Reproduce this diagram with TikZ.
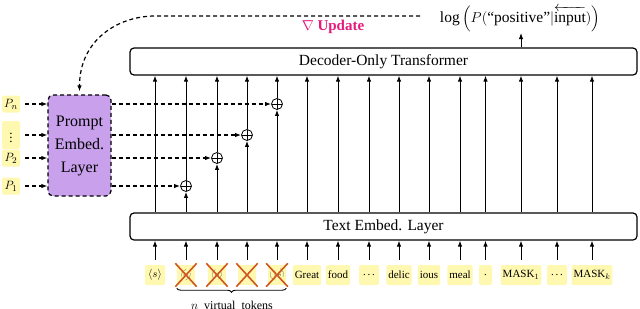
\documentclass[tikz,border=0pt]{standalone}
\usepackage{amsmath}
\usepackage{fontspec}
\setmainfont{Liberation Serif}
\usetikzlibrary{arrows.meta,decorations.pathreplacing,calc}
\definecolor{tokY}{HTML}{FFF8B0}
\definecolor{promptP}{HTML}{C8A0EC}
\definecolor{updM}{HTML}{E6197D}
\definecolor{crossO}{HTML}{D0561B}
\tikzset{
  bigbox/.style={draw, rounded corners=4pt, line width=1.2pt, minimum width=507pt, minimum height=27pt, font=\fontsize{15.5}{18}\selectfont},
  tok/.style={fill=tokY, rounded corners=2pt, minimum height=20pt, minimum width=20pt, inner sep=2pt, font=\fontsize{11}{13}\selectfont},
  xtok/.style={fill=tokY, minimum width=18pt, minimum height=20pt, inner sep=0pt, text=black!65, font=\fontsize{9}{10}\selectfont},
  ptok/.style={fill=tokY, rounded corners=2pt, minimum width=18pt, minimum height=17pt, inner sep=1pt, font=\fontsize{13}{15}\selectfont},
  arr/.style={-{Latex[length=6pt,width=4.5pt]}, line width=1pt},
  darr/.style={-{Latex[length=6pt,width=4.5pt]}, line width=1.2pt, dash pattern=on 4pt off 3pt},
  crossline/.style={crossO, line width=1.6pt},
  opl/.style={circle, draw, line width=0.8pt, minimum size=11pt, inner sep=0pt,
    path picture={\draw[line width=0.8pt] (path picture bounding box.north) -- (path picture bounding box.south)
      (path picture bounding box.west) -- (path picture bounding box.east);}},
}
\begin{document}
\begin{tikzpicture}[x=1pt,y=-1pt]
\useasboundingbox (0,0) rectangle (640,308);

% big boxes
\node[bigbox] (dec) at (383.5,61.5) {Decoder-Only Transformer};
\node[bigbox] (emb) at (383.5,226.5) {Text Embed. Layer};

% prompt embed layer
\node[draw, fill=promptP, rounded corners=5pt, line width=1.2pt, dash pattern=on 4pt off 3pt,
      minimum width=63pt, minimum height=101pt, align=center,
      font=\fontsize{16}{23}\selectfont] (prompt) at (79.5,145.5) {Prompt\\Embed.\\Layer};

% oplus nodes
\node[opl] (o1) at (186,186) {};
\node[opl] (o2) at (217,158) {};
\node[opl] (o3) at (247,135) {};
\node[opl] (o4) at (277,104) {};

% P tokens
\node[ptok] (pn) at (11,104) {$P_n$};
\node[ptok, minimum height=28pt] (pd) at (11,135) {$\vdots$};
\node[ptok] (p2) at (11,158) {$P_2$};
\node[ptok] (p1) at (11,186) {$P_1$};
\foreach \p in {pn,pd,p2,p1}
  \draw[darr] ([xshift=5pt]\p.east) -- (\p -| prompt.west);

% dashed arrows prompt -> oplus
\foreach \o in {o1,o2,o3,o4}
  \draw[darr] (prompt.east |- \o) -- (\o.west);

% tokens
\node[tok] (t1) at (155,275) {$\langle s\rangle$};
\node[xtok] (t2) at (186,275) {\rotatebox{-35}{$\langle s\rangle$}};
\node[xtok] (t3) at (217,275) {\rotatebox{-15}{$\langle s\rangle$}};
\node[xtok] (t4) at (247,275) {$\cdot$};
\node[xtok] (t5) at (277,275) {\rotatebox{20}{$\langle /s\rangle$}};
\node[tok] (t6) at (307,275) {Great};
\node[tok] (t7) at (338,275) {food};
\node[tok] (t8) at (369,275) {.\,.\,.};
\node[tok] (t9) at (399,275) {delic};
\node[tok] (t10) at (429,275) {ious};
\node[tok] (t11) at (460,275) {meal};
\node[tok, minimum width=13pt] (t12) at (485.5,275) {.};
\node[tok] (t13) at (521,275) {MASK$_1$};
\node[tok] (t14) at (557,275) {.\,.\,.};
\node[tok] (t15) at (592,275) {MASK$_k$};

\foreach \t in {t2,t3,t4,t5}
  \draw[crossline] ([shift={(-1.5pt,1.5pt)}]\t.north west) -- ([shift={(1.5pt,-1.5pt)}]\t.south east)
                   ([shift={(1.5pt,1.5pt)}]\t.north east) -- ([shift={(-1.5pt,-1.5pt)}]\t.south west);

% token -> text embed arrows
\foreach \t in {t1,t2,t3,t4,t5,t6,t7,t8,t9,t10,t11,t12,t13,t14,t15}
  \draw[arr] ([yshift=5pt]\t.north) -- (\t.north |- emb.south);

% text embed -> decoder direct arrows
\foreach \t in {t1,t6,t7,t8,t9,t10,t11,t12,t13,t14,t15}
  \draw[arr] (\t.north |- emb.north) -- (\t.north |- dec.south);

% through oplus
\foreach \o in {o1,o2,o3,o4}{
  \draw[arr] (\o |- emb.north) -- (\o.south);
  \draw[arr] (\o.north) -- (\o |- dec.south);
}

% brace
\draw[decorate, decoration={brace, mirror, amplitude=4pt}, line width=0.9pt]
  ([yshift=-3pt]t2.south west) -- ([yshift=-3pt]t5.south east);
\node[font=\fontsize{12}{14}\selectfont] (nv) at (232,305) {$n$\ \ virtual\ \ tokens};

% output label
\node[font=\fontsize{15.5}{19}\selectfont, inner sep=0pt] (log) at (520,18.5)
  {$\log\Big(P(\text{``positive''}|\overleftarrow{\text{input}})\Big)$};
\coordinate (login) at (521,33);
\draw[arr] (dec.north -| login) -- (login);

% update
\node[text=updM, font=\bfseries\fontsize{15}{18}\selectfont] (updtxt) at (333,27) {$\nabla$ Update};
\coordinate (upd) at (420,16);
\draw[darr] (upd) -- (155,16) .. controls (118,16) and (79.5,40) .. ([yshift=3pt]prompt.north);
\end{tikzpicture}
\end{document}
